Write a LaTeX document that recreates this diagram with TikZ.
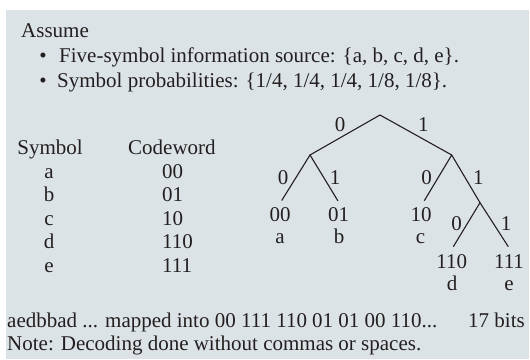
\documentclass[tikz,border=0pt]{standalone}
\usepackage{fontspec}
\setmainfont{Liberation Serif}
\definecolor{bg}{RGB}{220,227,230}
\definecolor{ink}{RGB}{35,31,32}
\begin{document}
\begin{tikzpicture}[x=1pt,y=-1pt,
  every node/.style={inner sep=0pt, text=ink, font=\fontsize{21}{25}\selectfont},
  txt/.style={anchor=base west},
  ctr/.style={anchor=base},
  branch/.style={draw=ink, line width=1.1pt}]
\useasboundingbox (0,0) rectangle (530,359);
\fill[bg] (6,10) rectangle (528.5,359);
% header text
\node[txt] (assume) at (21,37) {Assume};
\node[ctr] (b1) at (43,62) {•};
\node[txt] (l1) at (59,62) {Five-symbol information source: \{a, b, c, d, e\}.};
\node[ctr] (b2) at (43,87) {•};
\node[txt] (l2) at (57,87) {Symbol probabilities: \{1/4, 1/4, 1/4, 1/8, 1/8\}.};
% table
\node[ctr] (hs) at (50,154.5) {Symbol};
\node[txt] (hc) at (128,154.5) {Codeword};
\node[ctr] (sa) at (49,178) {a};   \node[txt] (ca) at (162,178) {00};
\node[ctr] (sb) at (49,201.5) {b}; \node[txt] (cb) at (162,201.5) {01};
\node[ctr] (sc) at (49,225) {c};   \node[txt] (cc) at (162,225) {10};
\node[ctr] (sd) at (49,248.5) {d}; \node[txt] (cd) at (162,248.5) {110};
\node[ctr] (se) at (49,272) {e};   \node[txt] (ce) at (162,272) {111};
% tree
\coordinate (root) at (380,115);
\coordinate (n0) at (310,155);
\coordinate (n1) at (451.7,155);
\coordinate (e00) at (281.7,200.5);
\coordinate (e01) at (338,201);
\coordinate (e10) at (424.3,200.7);
\coordinate (n11) at (480,202.7);
\coordinate (e110) at (453.3,246.7);
\coordinate (e111) at (508.3,246.7);
\draw[branch] (n0) -- (root) -- (n1);
\draw[branch] (e00) -- (n0) -- (e01);
\draw[branch] (e10) -- (n1) -- (n11);
\draw[branch] (e110) -- (n11) -- (e111);
% edge labels
\node[ctr] (t0) at (340,131.8) {0};
\node[ctr] (t1) at (423.3,131.8) {1};
\node[ctr] (t00) at (283,184.8) {0};
\node[ctr] (t01) at (335,184.8) {1};
\node[ctr] (t10) at (426.7,184) {0};
\node[ctr] (t11) at (478.3,184.8) {1};
\node[ctr] (t110) at (456.7,230) {0};
\node[ctr] (t111) at (506,230) {1};
% leaves
\node[ctr] (w00) at (280,221.8) {00};
\node[ctr] (w01) at (338.5,221.8) {01};
\node[ctr] (w10) at (421,221.8) {10};
\node[ctr] (w110) at (451.7,268.3) {110};
\node[ctr] (w111) at (509,268.3) {111};
\node[ctr] (la) at (280,243.5) {a};
\node[ctr] (lb) at (339,243.5) {b};
\node[ctr] (lc) at (420.5,243.5) {c};
\node[ctr] (ld) at (452,290.5) {d};
\node[ctr] (le) at (509,290.5) {e};
% bottom
\node[txt] (map) at (7,327.5) {aedbbad ... mapped into 00 111 110 01 01 00 110...};
\node[txt] (bits) at (468,327.5) {17 bits};
\node[txt] (note) at (7,350) {Note: Decoding done without commas or spaces.};
\end{tikzpicture}
\end{document}
